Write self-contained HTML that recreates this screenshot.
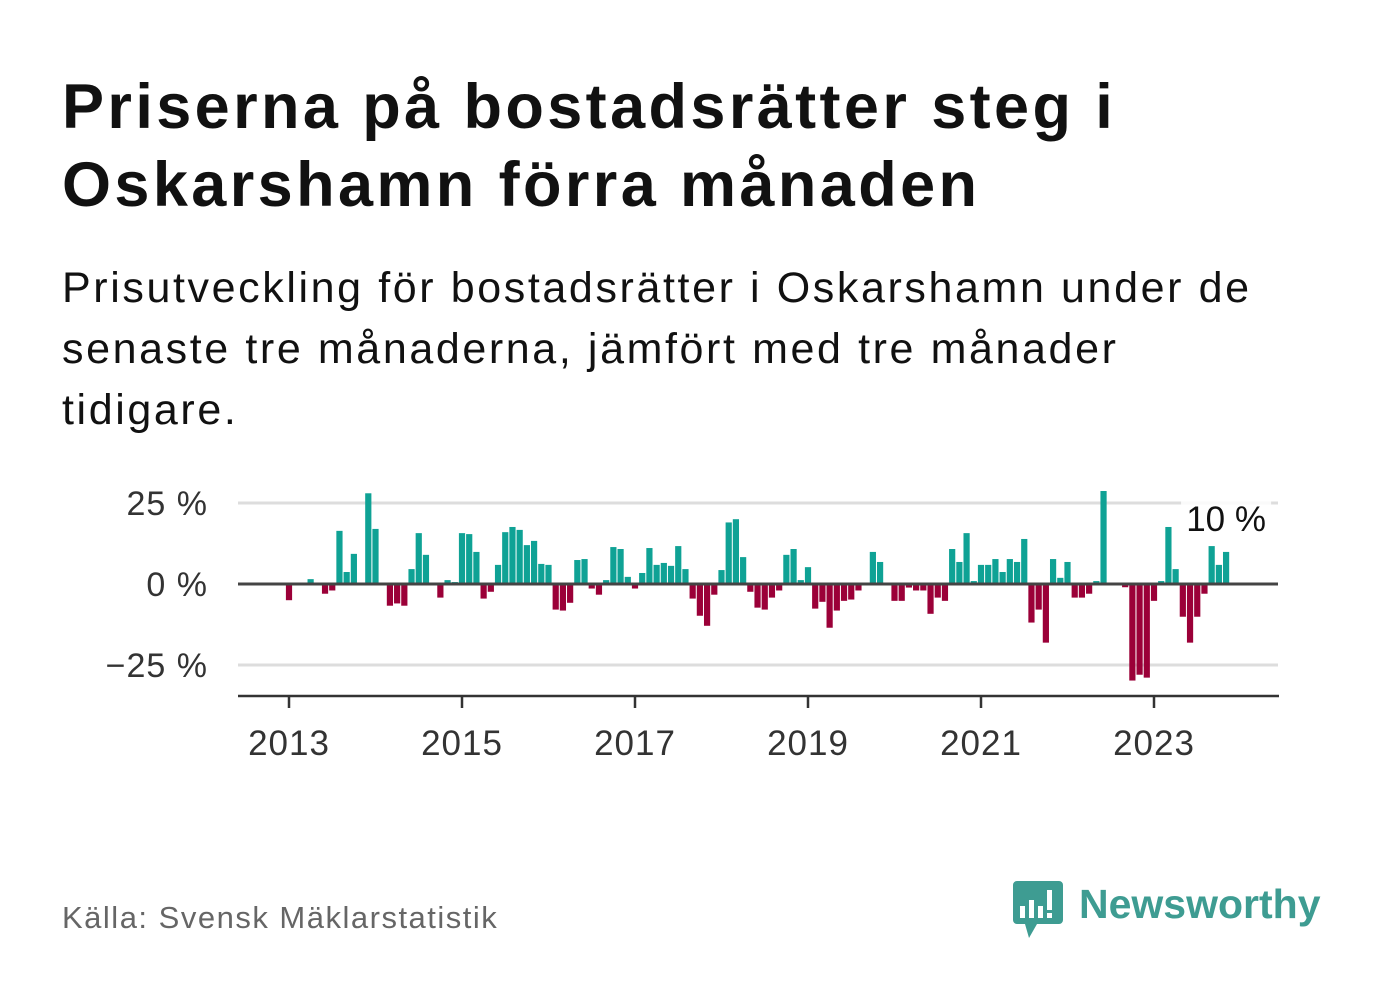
<!DOCTYPE html>
<html><head><meta charset="utf-8">
<style>
html,body{margin:0;padding:0;background:#fff;}
body{width:1382px;height:999px;position:relative;overflow:hidden;font-family:"Liberation Sans",sans-serif;}
.t{position:absolute;left:62px;white-space:nowrap;}
#title{top:68px;font-size:63px;font-weight:bold;color:#111;line-height:78px;letter-spacing:3.4px;}
#sub{top:258px;font-size:43px;color:#111;line-height:61px;letter-spacing:2.6px;}
#src{top:900px;font-size:31px;color:#666;letter-spacing:1.5px;}
svg{position:absolute;left:0;top:0;}
</style></head><body>
<div class="t" id="title">Priserna på bostadsrätter steg i<br>Oskarshamn förra månaden</div>
<div class="t" id="sub">Prisutveckling för bostadsrätter i Oskarshamn under de<br>senaste tre månaderna, jämfört med tre månader<br>tidigare.</div>
<div class="t" id="src">Källa: Svensk Mäklarstatistik</div>
<svg width="1382" height="999">
<g id="grid"></g>
<g id="bars"></g>
<g id="axes"></g>
<g>
<path d="M1017 881 h42 a4 4 0 0 1 4 4 v35 a4 4 0 0 1 -4 4 h-22 l-8 14 l-4 -14 h-8 a4 4 0 0 1 -4 -4 v-35 a4 4 0 0 1 4 -4z" fill="#3e9c92"/>
<rect x="1020" y="906" width="5" height="12" fill="#fff"/>
<rect x="1029" y="900" width="5" height="18" fill="#fff"/>
<rect x="1038" y="906" width="5" height="12" fill="#fff"/>
<rect x="1047" y="890" width="5" height="20" fill="#fff"/>
<rect x="1047" y="913" width="5" height="5" fill="#fff"/>
<text x="1079" y="918" font-family="Liberation Sans, sans-serif" font-size="41" font-weight="bold" fill="#3e9c92">Newsworthy</text>
</g>
</svg>
<script>
const startYear = 2013;
const values = [-5,null,null,1.5,null,-3,-2,16.4,3.7,9.3,null,28,17,null,-6.7,-6,-6.7,4.6,15.7,9,null,-4.2,1.2,0.6,15.7,15.4,9.9,-4.5,-2.4,5.9,16,17.6,16.7,12,13.3,6.2,5.9,-7.9,-8.2,-5.8,7.4,7.7,-1.4,-3.3,1.2,11.4,10.8,2.2,-1.4,3.4,11.1,5.9,6.5,5.6,11.7,4.6,-4.5,-9.8,-12.9,-3.3,4.3,19,20,8.3,-2.4,-7.3,-7.9,-4.2,-2,9,10.8,1.2,5.2,-7.6,-5.5,-13.5,-8.2,-5.2,-4.8,-2,null,9.9,6.8,null,-5.2,-5.2,-1.1,-2,-2,-9.2,-4.2,-5.2,10.8,6.8,15.7,0.9,5.9,5.9,7.7,3.7,7.7,6.8,13.9,-11.9,-7.9,-18.1,7.7,1.9,6.8,-4.2,-4.2,-3,0.9,28.7,null,null,-1,-29.8,-28,-28.9,-5.2,0.9,17.6,4.6,-10.1,-18.1,-10.1,-3,11.7,5.9,9.9];
const yTicks = [25,0,-25];
const yTickLabels = ["25 %","0 %","\u221225 %"];
const xTicks = [2013,2015,2017,2019,2021,2023];
const lastLabel = "10 %";

const NS="http://www.w3.org/2000/svg";
const x0=289, yearW=86.5, mW=yearW/12, y0=584, pxPer=3.24;
const X = m => x0 + m*mW;
const Y = v => y0 - v*pxPer;
function mk(tag, attrs, parent){const e=document.createElementNS(NS,tag);for(const k in attrs)e.setAttribute(k,attrs[k]);parent.appendChild(e);return e;}
const grid=document.getElementById('grid'), bars=document.getElementById('bars'), axes=document.getElementById('axes');
yTicks.forEach((t,i)=>{
  if(t!==0){const l=mk('line',{x1:238,x2:1278,y1:Y(t),y2:Y(t),stroke:'#ddd','stroke-width':3},grid);
  
  }
  const tx=mk('text',{x:208,y:Y(t)+12,'text-anchor':'end','font-size':34,'letter-spacing':1,fill:'#333','font-family':'Liberation Sans, sans-serif'},axes);
  tx.textContent=yTickLabels[i];
  
  
});
values.forEach((v,i)=>{
  if(v===null)return;
  const y=Y(Math.max(v,0)), h=Math.abs(v)*pxPer;
  const r=mk('rect',{x:X(i)-3.1,y:y,width:6.2,height:h,fill:v>=0?'#0fa295':'#9b0038'},bars);
  
  
});
const zl=mk('line',{x1:238,x2:1278,y1:y0,y2:y0,stroke:'#444','stroke-width':3},axes);


const xa=mk('line',{x1:238,x2:1279,y1:696,y2:696,stroke:'#333','stroke-width':2.5},axes);


xTicks.forEach(yr=>{
  const xx=X((yr-startYear)*12);
  const tk=mk('line',{x1:xx,x2:xx,y1:696,y2:708,stroke:'#333','stroke-width':2.5},axes);
  
  
  const tx=mk('text',{x:xx,y:755,'text-anchor':'middle','font-size':35,'letter-spacing':1,fill:'#333','font-family':'Liberation Sans, sans-serif'},axes);
  tx.textContent=String(yr);
  
  
});
const li=values.length-1;
const bg=mk('rect',{x:X(li)-45,y:500,width:90,height:38,fill:'#fff','fill-opacity':0.85},axes);


const lab=mk('text',{x:X(li),y:531,'text-anchor':'middle','font-size':35,fill:'#111','font-family':'Liberation Sans, sans-serif'},axes);
lab.textContent=lastLabel;


</script>
</body></html>
